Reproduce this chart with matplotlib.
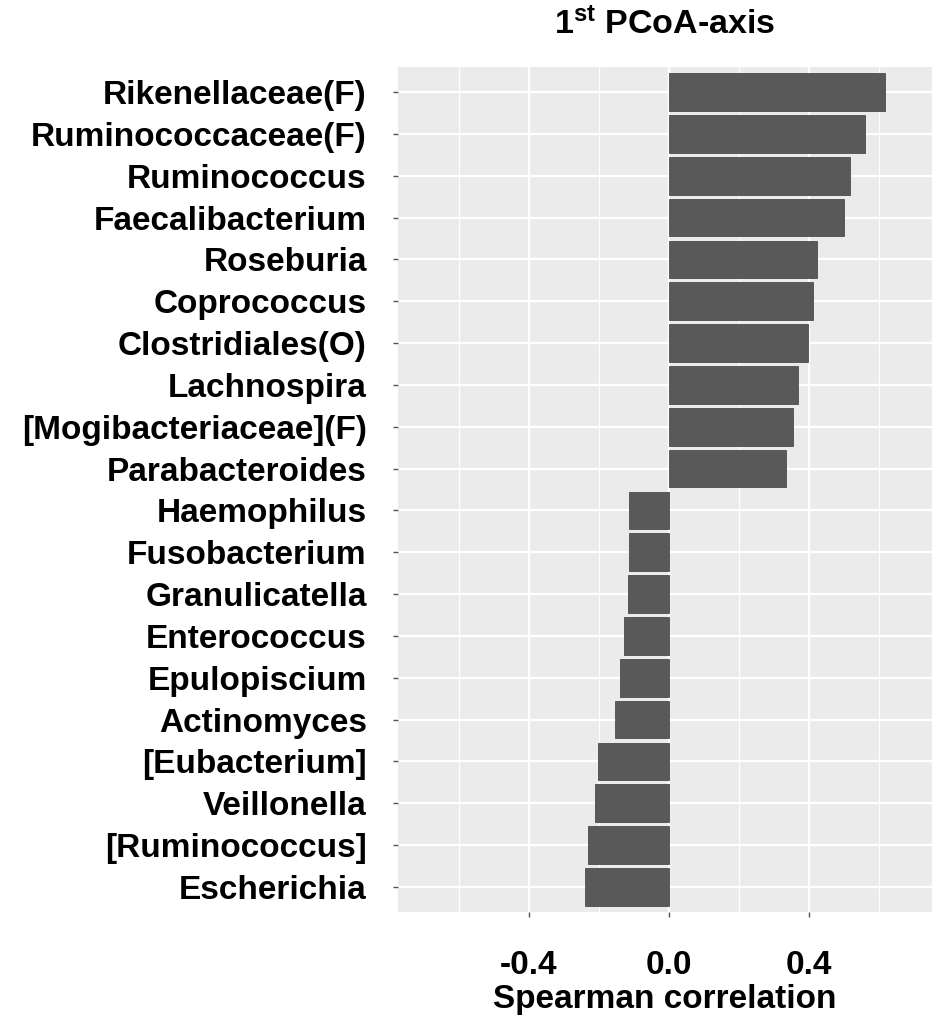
import numpy as np
import matplotlib
matplotlib.use("Agg")
import matplotlib.pyplot as plt

taxa = ["Rikenellaceae(F)", "Ruminococcaceae(F)", "Ruminococcus", "Faecalibacterium",
        "Roseburia", "Coprococcus", "Clostridiales(O)", "Lachnospira",
        "[Mogibacteriaceae](F)", "Parabacteroides", "Haemophilus", "Fusobacterium",
        "Granulicatella", "Enterococcus", "Epulopiscium", "Actinomyces",
        "[Eubacterium]", "Veillonella", "[Ruminococcus]", "Escherichia"]
rho = [0.617, 0.562, 0.517, 0.502, 0.425, 0.412, 0.399, 0.369, 0.355, 0.334,
       -0.113, -0.113, -0.115, -0.128, -0.140, -0.153, -0.203, -0.210, -0.230, -0.239]
xticks = [-0.4, 0.0, 0.4]
xtick_labels = ["-0.4", "0.0", "0.4"]

plt.rcParams["font.family"] = ["Liberation Sans", "DejaVu Sans"]
plt.rcParams["font.weight"] = "bold"
plt.rcParams["mathtext.fontset"] = "custom"
plt.rcParams["mathtext.rm"] = "Liberation Sans:bold"
plt.rcParams["mathtext.it"] = "Liberation Sans:bold"
plt.rcParams["mathtext.bf"] = "Liberation Sans:bold"

fig = plt.figure(figsize=(9.32, 10.15), dpi=100)
ax = fig.add_axes([398 / 932, 1 - 912 / 1015, 1 - 398 / 932, (912 - 67) / 1015])

y = np.arange(len(taxa))
ax.set_facecolor("#EBEBEB")
ax.set_axisbelow(True)
ax.barh(y, rho, height=0.9, color="#595959", edgecolor="#4d4d4d", linewidth=0.6, zorder=3)

ax.set_xlim(-0.773, 0.752)
ax.set_ylim(len(taxa) - 0.4, -0.6)
ax.set_yticks(y)
ax.set_yticklabels(taxa, fontsize=24, fontweight="bold")
ax.set_xticks(xticks)
ax.set_xticklabels(xtick_labels, fontsize=24, fontweight="bold")
ax.set_xticks([-0.6, -0.2, 0.2, 0.6], minor=True)

ax.grid(True, which="major", color="white", linewidth=1.6)
ax.grid(True, which="minor", axis="x", color="white", linewidth=0.8)
for s in ax.spines.values():
    s.set_visible(False)
ax.tick_params(axis="y", length=3.5, width=1, color="#555555", pad=19)
ax.tick_params(axis="x", length=3.5, width=1, color="#555555", pad=24)
ax.tick_params(which="minor", length=0)

ax.set_xlabel("Spearman correlation", fontsize=24, fontweight="bold", labelpad=2)
fig.text(665 / 932, 1 - 25 / 1015, "1$^{\\mathrm{st}}$ PCoA-axis", fontsize=24.5,
         fontweight="bold", ha="center", va="center")

fig.savefig("out.png", dpi=100)
